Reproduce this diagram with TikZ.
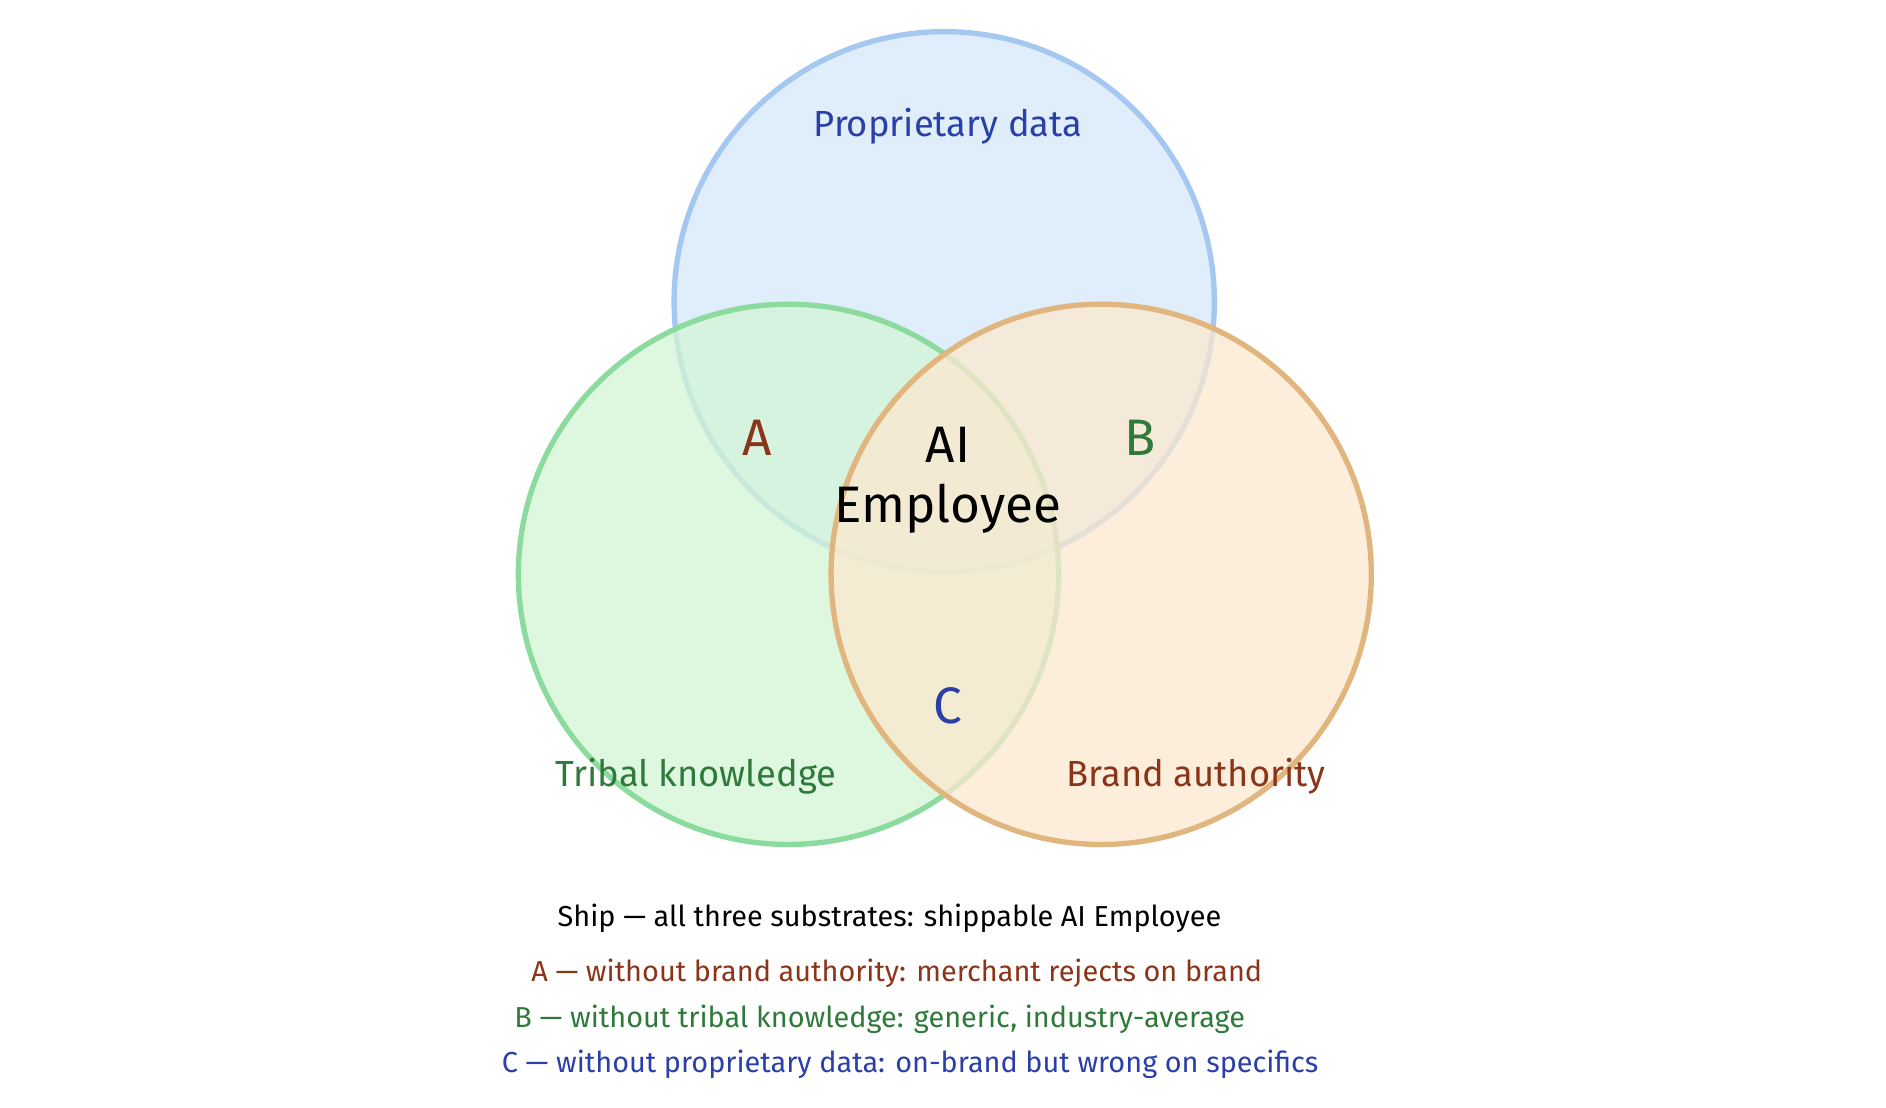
\documentclass[tikz,border=0pt]{standalone}
\usepackage{fontspec}
\setmainfont{Fira Sans}
\definecolor{bluefill}{HTML}{D6E8FB}
\definecolor{blueline}{HTML}{A5C8F0}
\definecolor{greenfill}{HTML}{D3F5D6}
\definecolor{greenline}{HTML}{8CDB9E}
\definecolor{orangefill}{HTML}{FCE8CF}
\definecolor{orangeline}{HTML}{E0B57E}
\definecolor{bluetext}{HTML}{2A3FA8}
\definecolor{greentext}{HTML}{2F7A3A}
\definecolor{browntext}{HTML}{8A3519}
\tikzset{
  setcircle/.style={circle, minimum size=444*0.02cm, line width=2.5pt, fill opacity=0.75},
  setlabel/.style={font=\fontsize{17}{20}\selectfont},
  zonelabel/.style={font=\fontsize{24}{28}\selectfont},
  legendline/.style={font=\fontsize{13.5}{16}\selectfont}
}
\begin{document}
\begin{tikzpicture}[x=0.02cm,y=-0.02cm]
  \useasboundingbox (0,0) rectangle (1550,910);
  % Circles
  \node[setcircle, draw=blueline, fill=bluefill] (proprietary) at (776,248) {};
  \node[setcircle, draw=greenline, fill=greenfill] (tribal) at (648,472) {};
  \node[setcircle, draw=orangeline, fill=orangefill] (brand) at (905,472) {};

  % Set labels
  \node[setlabel, text=bluetext] (proplabel) at (779,104) {Proprietary data};
  \node[setlabel, text=greentext] (triblabel) at (572,638) {Tribal knowledge};
  \node[setlabel, text=browntext] (brandlabel) at (983,638) {Brand authority};

  % Zone labels
  \node[zonelabel, text=browntext] (zoneA) at (622,360) {A};
  \node[zonelabel, text=greentext] (zoneB) at (937,360) {B};
  \node[zonelabel, text=bluetext] (zoneC) at (779,580) {C};
  \node[zonelabel, align=center] (center) at (779,395) {AI\\Employee};

  % Legend
  \node[legendline] (ship) at (731,755) {Ship — all three substrates: shippable AI Employee};
  \node[legendline, text=browntext] (legA) at (737,800) {A — without brand authority: merchant rejects on brand};
  \node[legendline, text=greentext] (legB) at (723,838) {B — without tribal knowledge: generic, industry-average};
  \node[legendline, text=bluetext] (legC) at (748,875) {C — without proprietary data: on-brand but wrong on specifics};
\end{tikzpicture}
\end{document}
